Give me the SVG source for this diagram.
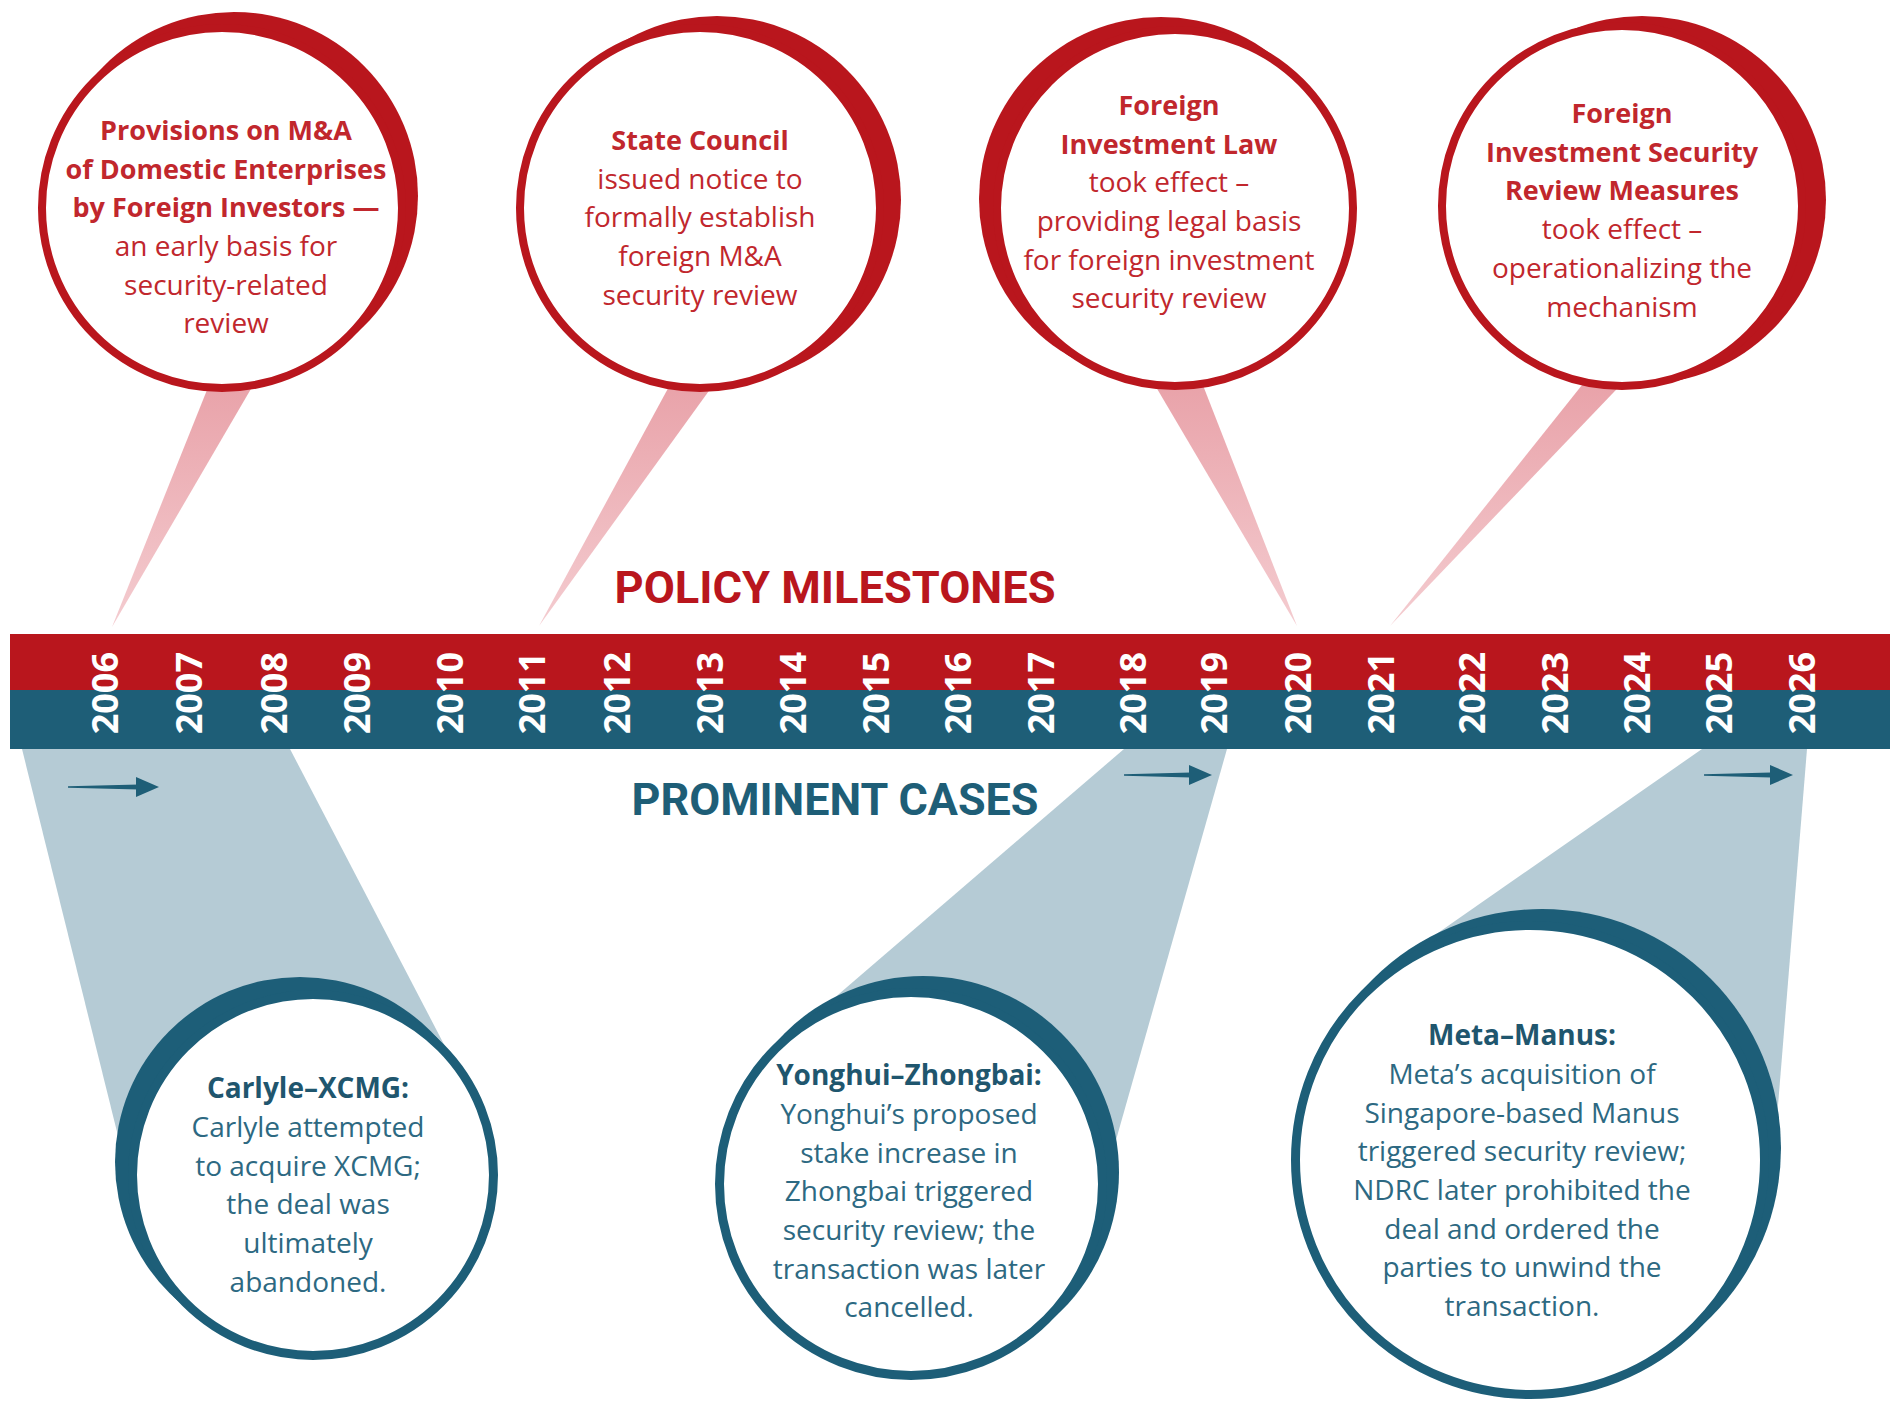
<svg xmlns="http://www.w3.org/2000/svg" width="1895" height="1402" viewBox="0 0 1895 1402">
<defs>
<style>
.yr{font-family:"Open Sans","Liberation Sans",sans-serif;font-weight:700;font-size:36px;fill:#ffffff;text-anchor:end}
.rt{font-family:"Open Sans","Liberation Sans",sans-serif;font-size:28px;fill:#C1272D;text-anchor:middle}
.tt{font-family:"Open Sans","Liberation Sans",sans-serif;font-size:28px;fill:#2D6982;text-anchor:middle}
.b{font-weight:700;font-size:27px}
.tb{font-weight:700;fill:#1F566E}
.ttl{font-family:Roboto,"Liberation Sans",sans-serif;font-weight:700;font-size:45px;text-anchor:middle}
.redc{fill:#B9161D}
.redr{fill:#ffffff;stroke:#B9161D;stroke-width:8}
.bluc{fill:#1D5E78}
.blur{fill:#ffffff;stroke:#1D5E78;stroke-width:9}
.bw{fill:#B5CBD5}
.arr{fill:#1E5E77}
</style>
<linearGradient id="pk" x1="0" y1="0" x2="0" y2="1">
<stop offset="0" stop-color="#E8A0A7"/>
<stop offset="1" stop-color="#F4CCD0"/>
</linearGradient>
</defs>
<rect width="1895" height="1402" fill="#ffffff"/>

<g id="connectors">
<polygon fill="url(#pk)" points="215,370 262,370 112,627"/>
<polygon fill="url(#pk)" points="678,370 724,370 539,626"/>
<polygon fill="url(#pk)" points="1146,370 1197,370 1297,626"/>
<polygon fill="url(#pk)" points="1594,370 1635,370 1390,626"/>
<polygon class="bw" points="22,749 290,749 473,1100 313,1175 124,1160"/>
<polygon class="bw" points="1124,749 1227,749 1116,1140 912,1184 818,1012"/>
<polygon class="bw" points="1702,749 1807,749 1776,1130 1530,1160 1412,951"/>
<polygon class="arr" points="68,786.2 139,784.5 139,789.5 68,787.8"/>
<polygon class="arr" points="136,777 159,787 136,797"/>
<polygon class="arr" points="1124,774.2 1191,772.5 1191,777.5 1124,775.8"/>
<polygon class="arr" points="1189,765 1212,775 1189,785"/>
<polygon class="arr" points="1704,774.2 1771,772.5 1771,777.5 1704,775.8"/>
<polygon class="arr" points="1770,765 1793,775 1770,785"/>
</g>

<g id="timeline">
<rect x="10" y="634" width="1880" height="57" fill="#B9161D"/>
<rect x="10" y="690" width="1880" height="59" fill="#1E5E77"/>
<text class="yr" transform="translate(118,652) rotate(-90)">2006</text>
<text class="yr" transform="translate(202,652) rotate(-90)">2007</text>
<text class="yr" transform="translate(287,652) rotate(-90)">2008</text>
<text class="yr" transform="translate(370,652) rotate(-90)">2009</text>
<text class="yr" transform="translate(463,652) rotate(-90)">2010</text>
<text class="yr" transform="translate(545,652) rotate(-90)">2011</text>
<text class="yr" transform="translate(630,652) rotate(-90)">2012</text>
<text class="yr" transform="translate(723,652) rotate(-90)">2013</text>
<text class="yr" transform="translate(806,652) rotate(-90)">2014</text>
<text class="yr" transform="translate(889,652) rotate(-90)">2015</text>
<text class="yr" transform="translate(971,652) rotate(-90)">2016</text>
<text class="yr" transform="translate(1054,652) rotate(-90)">2017</text>
<text class="yr" transform="translate(1146,652) rotate(-90)">2018</text>
<text class="yr" transform="translate(1227,652) rotate(-90)">2019</text>
<text class="yr" transform="translate(1311,652) rotate(-90)">2020</text>
<text class="yr" transform="translate(1394,652) rotate(-90)">2021</text>
<text class="yr" transform="translate(1485,652) rotate(-90)">2022</text>
<text class="yr" transform="translate(1568,652) rotate(-90)">2023</text>
<text class="yr" transform="translate(1650,652) rotate(-90)">2024</text>
<text class="yr" transform="translate(1732,652) rotate(-90)">2025</text>
<text class="yr" transform="translate(1815,652) rotate(-90)">2026</text>
</g>

<g id="titles">
<text class="ttl" x="835" y="603" fill="#B9161D" textLength="441" lengthAdjust="spacingAndGlyphs">POLICY MILESTONES</text>
<text class="ttl" x="835" y="815" fill="#1E5E77" textLength="407" lengthAdjust="spacingAndGlyphs">PROMINENT CASES</text>
</g>

<g id="milestone-2006">
<circle class="redc" cx="234" cy="196" r="184"/>
<circle class="redr" cx="222" cy="208" r="180"/>
<text class="rt b" x="226" y="140">Provisions on M&amp;A</text>
<text class="rt b" x="226" y="179">of Domestic Enterprises</text>
<text class="rt b" x="226" y="217">by Foreign Investors —</text>
<text class="rt" x="226" y="256">an early basis for</text>
<text class="rt" x="226" y="295">security-related</text>
<text class="rt" x="226" y="333">review</text>
</g>

<g id="milestone-2011">
<circle class="redc" cx="717" cy="200" r="184"/>
<circle class="redr" cx="700" cy="208" r="180"/>
<text class="rt b" x="700" y="150">State Council</text>
<text class="rt" x="700" y="189">issued notice to</text>
<text class="rt" x="700" y="227">formally establish</text>
<text class="rt" x="700" y="266">foreign M&amp;A</text>
<text class="rt" x="700" y="305">security review</text>
</g>

<g id="milestone-2020">
<circle class="redc" cx="1161" cy="199" r="182"/>
<circle class="redr" cx="1175" cy="208" r="178"/>
<text class="rt b" x="1169" y="115">Foreign</text>
<text class="rt b" x="1169" y="154">Investment Law</text>
<text class="rt" x="1169" y="192">took effect –</text>
<text class="rt" x="1169" y="231">providing legal basis</text>
<text class="rt" x="1169" y="270">for foreign investment</text>
<text class="rt" x="1169" y="308">security review</text>
</g>

<g id="milestone-2021">
<circle class="redc" cx="1642" cy="200" r="184"/>
<circle class="redr" cx="1622" cy="206" r="180"/>
<text class="rt b" x="1622" y="123">Foreign</text>
<text class="rt b" x="1622" y="162">Investment Security</text>
<text class="rt b" x="1622" y="200">Review Measures</text>
<text class="rt" x="1622" y="239">took effect –</text>
<text class="rt" x="1622" y="278">operationalizing the</text>
<text class="rt" x="1622" y="317">mechanism</text>
</g>

<g id="case-carlyle-xcmg">
<circle class="bluc" cx="300" cy="1162" r="185"/>
<circle class="blur" cx="313" cy="1175" r="180.5"/>
<text class="tt tb" x="308" y="1098">Carlyle–XCMG:</text>
<text class="tt" x="308" y="1137">Carlyle attempted</text>
<text class="tt" x="308" y="1176">to acquire XCMG;</text>
<text class="tt" x="308" y="1214">the deal was</text>
<text class="tt" x="308" y="1253">ultimately</text>
<text class="tt" x="308" y="1292">abandoned.</text>
</g>

<g id="case-yonghui-zhongbai">
<circle class="bluc" cx="923" cy="1172" r="196"/>
<circle class="blur" cx="911" cy="1184" r="191.5"/>
<text class="tt tb" x="909" y="1085">Yonghui–Zhongbai:</text>
<text class="tt" x="909" y="1124">Yonghui’s proposed</text>
<text class="tt" x="909" y="1163">stake increase in</text>
<text class="tt" x="909" y="1201">Zhongbai triggered</text>
<text class="tt" x="909" y="1240">security review; the</text>
<text class="tt" x="909" y="1279">transaction was later</text>
<text class="tt" x="909" y="1317">cancelled.</text>
</g>

<g id="case-meta-manus">
<circle class="bluc" cx="1542" cy="1148" r="239"/>
<circle class="blur" cx="1530" cy="1160" r="234.5"/>
<text class="tt tb" x="1522" y="1045">Meta–Manus:</text>
<text class="tt" x="1522" y="1084">Meta’s acquisition of</text>
<text class="tt" x="1522" y="1123">Singapore-based Manus</text>
<text class="tt" x="1522" y="1161">triggered security review;</text>
<text class="tt" x="1522" y="1200">NDRC later prohibited the</text>
<text class="tt" x="1522" y="1239">deal and ordered the</text>
<text class="tt" x="1522" y="1277">parties to unwind the</text>
<text class="tt" x="1522" y="1316">transaction.</text>
</g>
</svg>
